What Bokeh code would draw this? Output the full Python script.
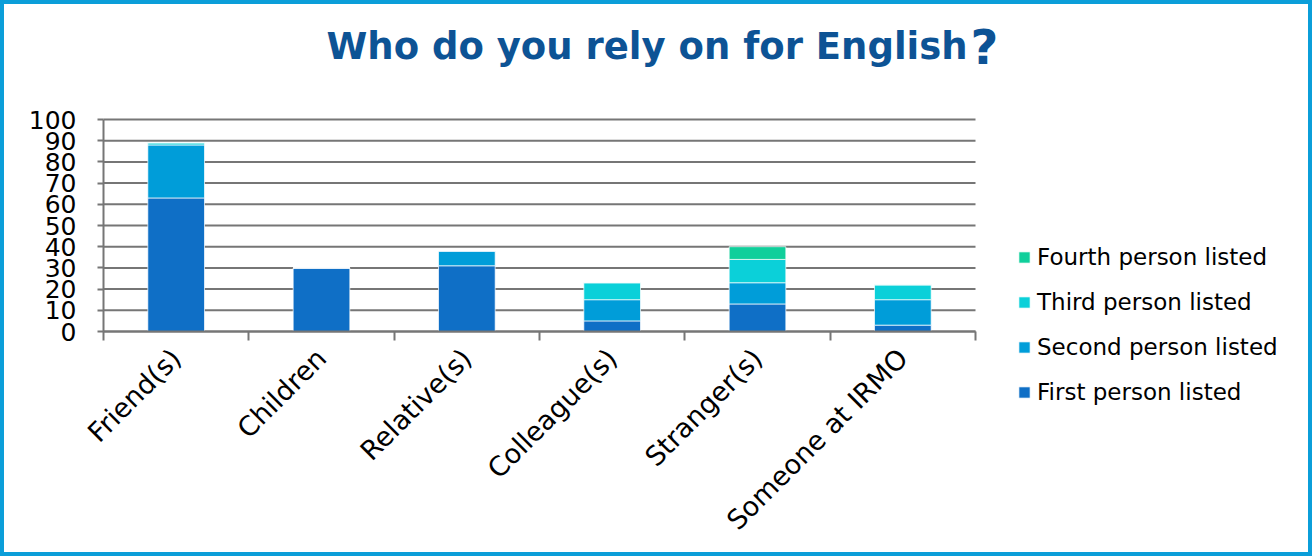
import math
from bokeh.plotting import figure
from bokeh.layouts import column
from bokeh.models import (ColumnDataSource, FixedTicker, Legend, LegendItem, Range1d, Label)
from bokeh.embed import file_html
from bokeh.resources import INLINE

categories = ["Friend(s)", "Children", "Relative(s)", "Colleague(s)", "Stranger(s)", "Someone at IRMO"]
first = [63, 30, 31, 5, 13, 3]
second = [25, 0, 7, 10, 10, 12]
third = [1, 0, 0, 8, 11, 7]
fourth = [0, 0, 0, 0, 6, 0]
series_names = ["First person listed", "Second person listed", "Third person listed", "Fourth person listed"]
colors = ["#0F6FC6", "#009DD9", "#0BD0D9", "#10CF9B"]
y_ticks = list(range(0, 101, 10))
title_main = "Who do you rely on for English"
title_mark = "?"

BORDER = 4
W, H = 1304, 548              # canvas inside the blue frame
FONT = "DejaVu Sans"
# canvas-pixel geometry of the plot area (x 0..6, y 0..100); frame = whole canvas
PL, PR, PT, PB = 99, 971, 115, 327
n = len(categories)
px_x = (PR - PL) / n
px_y = (PB - PT) / 100.0
x_start, x_end = -PL / px_x, (W - PL) / px_x
y_start, y_end = -(H - PB) / px_y, 100 + PT / px_y

xs = [i + 0.5 for i in range(n)]
src = ColumnDataSource(dict(x=xs, s1=first, s2=second, s3=third, s4=fourth))
grid_src = ColumnDataSource(dict(y=y_ticks, x0=[0] * len(y_ticks), x1=[n] * len(y_ticks)))

p = figure(width=W, height=H, output_backend="svg", toolbar_location=None, title=None,
           x_range=Range1d(x_start, x_end), y_range=Range1d(y_start, y_end),
           min_border=0, min_border_left=0, min_border_right=0, min_border_top=0, min_border_bottom=0)
p.outline_line_color = None
p.background_fill_color = "white"
p.border_fill_color = "white"

# horizontal gridlines limited to plot area
p.segment(x0="x0", x1="x1", y0="y", y1="y", source=grid_src,
          line_color="#767676", line_width=2, level="underlay")

rs = p.vbar_stack(["s1", "s2", "s3", "s4"], x="x", width=0.39, source=src,
                  color=colors, line_color="white", line_width=1, line_alpha=0.7)

# title
TY = H - 42
p.add_layout(Label(x=322, y=TY, x_units="screen", y_units="screen", text=title_main,
                   text_font=FONT, text_font_style="bold", text_font_size="37px",
                   text_color="#0D5395", text_baseline="alphabetic", text_align="left"))
p.add_layout(Label(x=966, y=TY, x_units="screen", y_units="screen", text=title_mark,
                   text_font=FONT, text_font_style="bold", text_font_size="48px",
                   text_color="#0D5395", text_baseline="alphabetic", text_align="left"))

# axes
p.xgrid.visible = False
p.ygrid.visible = False
p.yaxis.fixed_location = 0
p.yaxis.ticker = FixedTicker(ticks=y_ticks)
p.yaxis.bounds = (0, 100)
p.yaxis.axis_line_color = "#767676"
p.yaxis.axis_line_width = 2
p.yaxis.major_tick_line_color = "#767676"
p.yaxis.major_tick_line_width = 2
p.yaxis.major_tick_out = 6
p.yaxis.major_tick_in = 0
p.yaxis.minor_tick_line_color = None
p.yaxis.major_label_text_font = FONT
p.yaxis.major_label_text_font_size = "25px"
p.yaxis.major_label_text_color = "black"
p.yaxis.major_label_standoff = 21

p.xaxis.fixed_location = 0
p.xaxis.bounds = (0, n)
p.xaxis.ticker = FixedTicker(ticks=xs, minor_ticks=list(range(n + 1)))
p.xaxis.major_label_overrides = {x: c for x, c in zip(xs, categories)}
p.xaxis.axis_line_color = "#767676"
p.xaxis.axis_line_width = 2
p.xaxis.major_tick_line_color = None
p.xaxis.major_tick_out = 0
p.xaxis.major_tick_in = 0
p.xaxis.minor_tick_line_color = "#767676"
p.xaxis.minor_tick_line_width = 2
p.xaxis.minor_tick_out = 9
p.xaxis.minor_tick_in = 0
p.xaxis.major_label_orientation = math.pi / 4
p.xaxis.major_label_text_font = FONT
p.xaxis.major_label_text_font_size = "27px"
p.xaxis.major_label_text_color = "black"
p.xaxis.major_label_standoff = 13

# legend (reverse order: Fourth on top)
items = [LegendItem(label=series_names[i], renderers=[rs[i]]) for i in reversed(range(4))]
legend = Legend(items=items, location=(1013, H - 401), orientation="vertical",
                label_text_font=FONT, label_text_font_size="23px", label_text_color="black",
                glyph_width=14, glyph_height=14, label_standoff=6, spacing=19,
                padding=0, margin=0, border_line_color=None, background_fill_alpha=0)
p.add_layout(legend, "center")

layout = column(p, styles={"border": f"{BORDER}px solid #0B9ED9"})
open("out.html", "w").write(file_html(layout, INLINE))
